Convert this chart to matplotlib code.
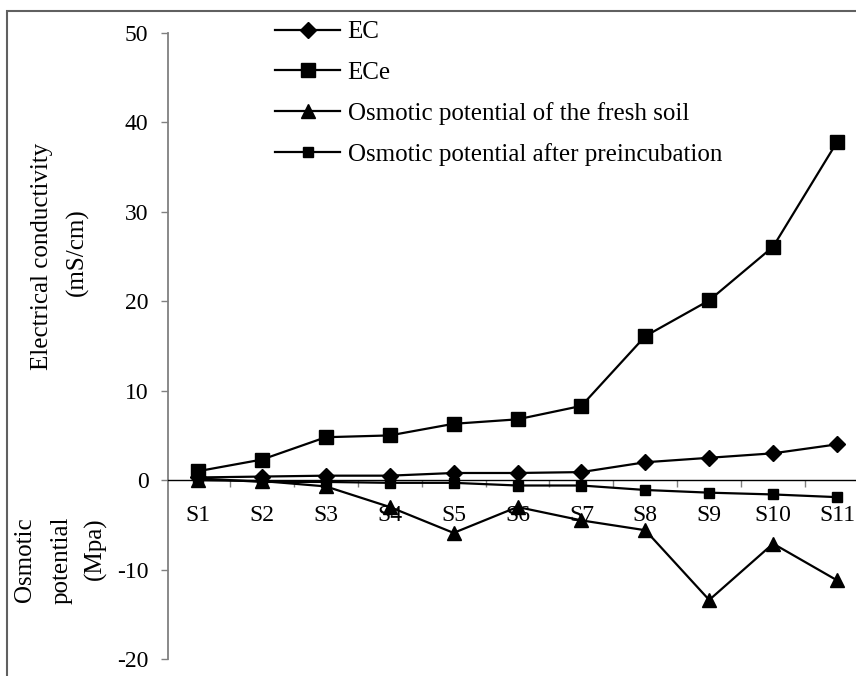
import matplotlib.pyplot as plt
from matplotlib.patches import Rectangle

plt.rcParams["font.family"] = ["Liberation Serif", "DejaVu Serif"]
plt.rcParams["axes.unicode_minus"] = False

samples = ["S1", "S2", "S3", "S4", "S5", "S6", "S7", "S8", "S9", "S10", "S11"]
ec = [0.3, 0.4, 0.5, 0.5, 0.8, 0.8, 0.9, 2.0, 2.5, 3.0, 4.0]
ece = [1.0, 2.3, 4.8, 5.0, 6.3, 6.8, 8.3, 16.1, 20.1, 26.1, 37.8]
osm_fresh = [0.0, -0.1, -0.7, -3.0, -5.9, -3.0, -4.5, -5.6, -13.4, -7.1, -11.2]
osm_preinc = [0.2, -0.2, -0.2, -0.3, -0.3, -0.6, -0.6, -1.1, -1.4, -1.6, -1.9]

W, H = 856, 676
FS = 17


def fx(px):
    return px / W


def fy(py):
    return 1 - py / H


fig = plt.figure(figsize=(W / 100, H / 100), dpi=100)
# outer frame, only left and top edges fall inside the image
fig.patches.append(Rectangle((fx(7), fy(690)), 1.2, fy(11) - fy(690),
                             transform=fig.transFigure, fill=False,
                             edgecolor="#606060", linewidth=1.5))

x0 = 198 - 0.47 * 63.9
ax = fig.add_axes([fx(x0), fy(659), 11 * 63.9 / W, (659 - 33) / H])
ax.set_xlim(-0.47, 10.53)
ax.set_ylim(-20, 50)

xs = list(range(len(samples)))
kw = dict(color="black", linewidth=1.6, clip_on=False)
ax.plot(xs, ec, marker="D", markersize=8.5, label="EC", **kw)
ax.plot(xs, ece, marker="s", markersize=10, label="ECe", **kw)
ax.plot(xs, osm_fresh, marker="^", markersize=10.5,
        label="Osmotic potential of the fresh soil", **kw)
ax.plot(xs, osm_preinc, marker="s", markersize=7,
        label="Osmotic potential after preincubation", **kw)

for s in ["top", "right"]:
    ax.spines[s].set_visible(False)
ax.spines["left"].set_color("#808080")
ax.spines["left"].set_linewidth(1.3)
ax.spines["bottom"].set_position(("data", 0))
ax.spines["bottom"].set_color("black")
ax.spines["bottom"].set_linewidth(1.0)

ax.set_yticks(range(-20, 51, 10))
ax.tick_params(axis="y", direction="out", length=5, width=1, color="#808080",
               labelsize=FS, pad=9)

# category ticks sit between samples, labels under each sample
ax.set_xticks([i + 0.5 for i in range(len(samples))])
ax.set_xticklabels([])
ax.set_xticks(xs, minor=True)
ax.set_xticklabels(samples, minor=True)
ax.tick_params(axis="x", which="major", direction="out", length=5, width=1,
               color="#808080")
ax.tick_params(axis="x", which="minor", length=0, labelsize=FS, pad=18)

fig.text(fx(42), fy(256), "Electrical conductivity", rotation=90,
         ha="center", va="center", fontsize=FS + 1)
fig.text(fx(77), fy(252), "(mS/cm)", rotation=90,
         ha="center", va="center", fontsize=FS + 1)
for px, txt in [(25, "Osmotic"), (62, "potential"), (95, "(Mpa)")]:
    fig.text(fx(px), fy(517), txt, rotation=90, ha="center", va="top",
             fontsize=FS + 1)

ax.legend(loc="upper left", bbox_to_anchor=(fx(275), fy(21)),
          bbox_transform=fig.transFigure, frameon=False, fontsize=FS + 1,
          handlelength=2.6, handletextpad=0.3, labelspacing=0.72,
          borderpad=0, borderaxespad=0)

fig.savefig("out.png", dpi=100)
